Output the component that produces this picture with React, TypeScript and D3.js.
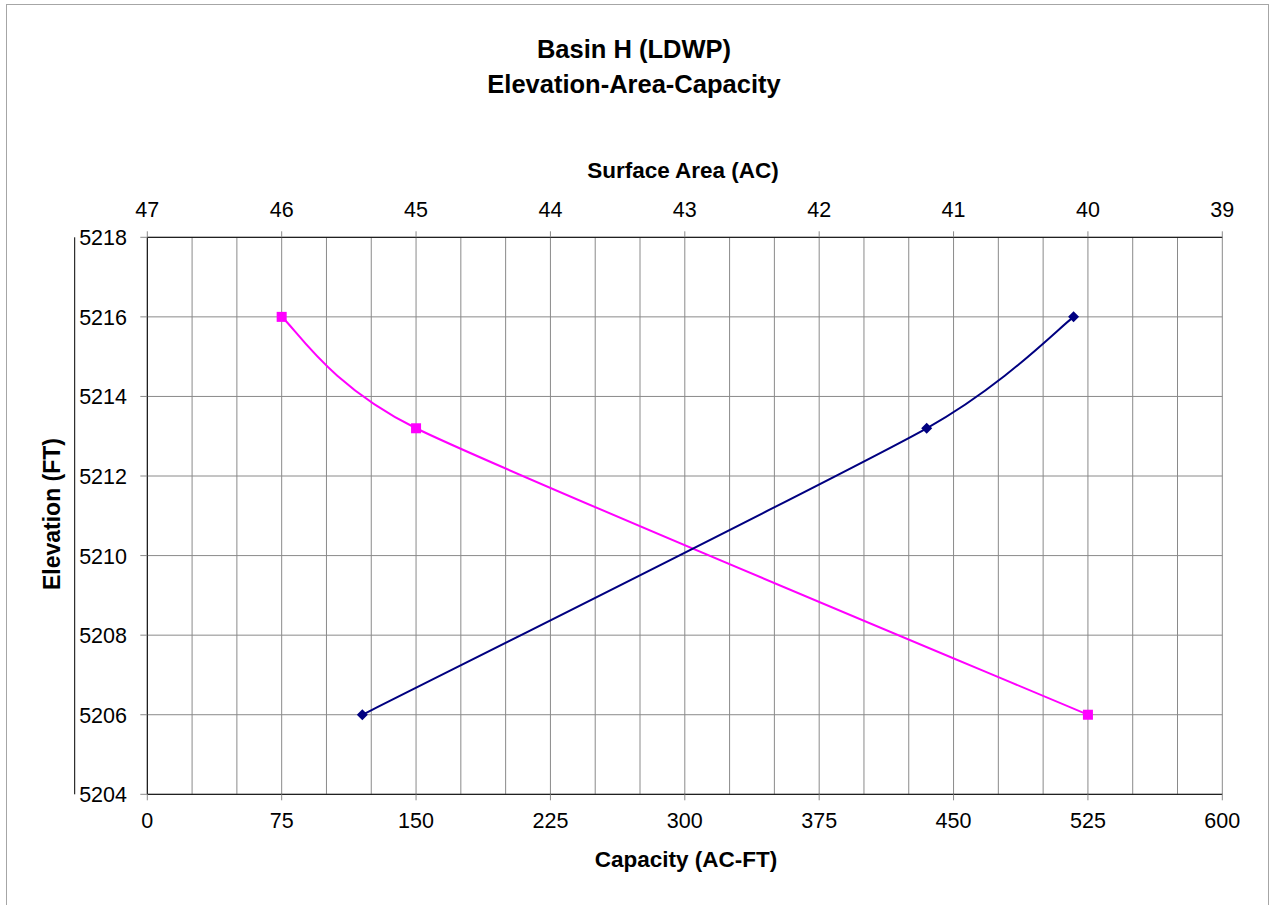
import React from "react";
import * as d3 from "d3";

const elevation = [5206, 5213.2, 5216];
const capacity = [120, 435, 517];
const surfaceArea = [40, 45, 46];

const capacityTicks = [0, 75, 150, 225, 300, 375, 450, 525, 600];
const areaTicks = [47, 46, 45, 44, 43, 42, 41, 40, 39];
const elevTicks = [5204, 5206, 5208, 5210, 5212, 5214, 5216, 5218];
const capacityGrid = d3.range(0, 601, 25);

const FONT = "'Liberation Sans', Arial, Helvetica, sans-serif";

// Excel-like smoothed line built with d3.path (Bezier control points from neighbours)
function smoothPath(pts: [number, number][], k = 0.108): string {
  const p = d3.path();
  if (!pts.length) return "";
  p.moveTo(pts[0][0], pts[0][1]);
  const n = pts.length;
  for (let i = 0; i < n - 1; i++) {
    const p0 = pts[Math.max(0, i - 1)];
    const p1 = pts[i];
    const p2 = pts[i + 1];
    const p3 = pts[Math.min(n - 1, i + 2)];
    const c1x = p1[0] + k * (p2[0] - p0[0]);
    const c1y = p1[1] + k * (p2[1] - p0[1]);
    const c2x = p2[0] - k * (p3[0] - p1[0]);
    const c2y = p2[1] - k * (p3[1] - p1[1]);
    p.bezierCurveTo(c1x, c1y, c2x, c2y, p2[0], p2[1]);
  }
  return p.toString();
}

export default function App() {
  const left = 147.3, right = 1222.3, top = 237.3, bottom = 794.3;
  const x = d3.scaleLinear().domain([0, 600]).range([left, right]);
  const xa = d3.scaleLinear().domain([47, 39]).range([left, right]);
  const y = d3.scaleLinear().domain([5204, 5218]).range([bottom, top]);

  const capPts: [number, number][] = elevation.map((e, i) => [x(capacity[i]), y(e)]);
  const areaPts: [number, number][] = elevation.map((e, i) => [xa(surfaceArea[i]), y(e)]);

  const gridColor = "#8a8a8a";

  return (
    <svg
      width={1271}
      height={905}
      style={{ position: "absolute", left: 0, top: 0, background: "#fff" }}
      fontFamily={FONT}
    >
      <rect x={6.5} y={4.5} width={1262} height={920} fill="#fff" stroke="#a6a6a6" strokeWidth={1} />

      {/* title */}
      <text x={634} y={58} textAnchor="middle" fontSize={25.5} fontWeight="bold">Basin H (LDWP)</text>
      <text x={634} y={93} textAnchor="middle" fontSize={25.5} fontWeight="bold">Elevation-Area-Capacity</text>

      {/* gridlines */}
      {capacityGrid.map((c) => (
        <line key={"vx" + c} x1={x(c)} x2={x(c)} y1={top} y2={bottom} stroke={gridColor} strokeWidth={1} />
      ))}
      {elevTicks.map((e) => (
        <line key={"hy" + e} x1={left} x2={right} y1={y(e)} y2={y(e)} stroke={gridColor} strokeWidth={1} />
      ))}

      {/* axes lines */}
      <line x1={left} x2={right} y1={top} y2={top} stroke="#000" strokeWidth={1} />
      <line x1={left} x2={right} y1={bottom} y2={bottom} stroke="#000" strokeWidth={1} />
      <line x1={left} x2={left} y1={top} y2={bottom} stroke="#000" strokeWidth={1} />
      <line x1={74.7} x2={74.7} y1={top} y2={bottom} stroke="#000" strokeWidth={1} />

      {/* bottom axis */}
      {capacityTicks.map((c) => (
        <g key={"bt" + c}>
          <line x1={x(c)} x2={x(c)} y1={bottom} y2={bottom + 6} stroke={gridColor} />
          <text x={x(c)} y={828} textAnchor="middle" fontSize={21.5}>{c}</text>
        </g>
      ))}
      {/* top axis */}
      {areaTicks.map((a) => (
        <g key={"tt" + a}>
          <line x1={xa(a)} x2={xa(a)} y1={top - 6} y2={top} stroke={gridColor} />
          <text x={xa(a)} y={217} textAnchor="middle" fontSize={21.5}>{a}</text>
        </g>
      ))}
      {/* left axis */}
      {elevTicks.map((e) => (
        <g key={"lt" + e}>
          <line x1={left - 7} x2={left} y1={y(e)} y2={y(e)} stroke={gridColor} />
          <text x={127} y={y(e) + 8} textAnchor="end" fontSize={21.5}>{e}</text>
        </g>
      ))}

      {/* axis titles */}
      <text x={683} y={178} textAnchor="middle" fontSize={22.5} fontWeight="bold">Surface Area (AC)</text>
      <text x={686} y={867} textAnchor="middle" fontSize={22.5} fontWeight="bold">Capacity (AC-FT)</text>
      <text transform="translate(60,514) rotate(-90)" textAnchor="middle" fontSize={23} fontWeight="bold">Elevation (FT)</text>

      {/* series */}
      <path d={smoothPath(areaPts)} fill="none" stroke="#FF00FF" strokeWidth={2} />
      <path d={smoothPath(capPts)} fill="none" stroke="#000080" strokeWidth={2} />
      {elevation.map((e, i) => (
        <rect key={"sq" + i} x={xa(surfaceArea[i]) - 5} y={y(e) - 5} width={10} height={10} fill="#FF00FF" />
      ))}
      {elevation.map((e, i) => (
        <path
          key={"dm" + i}
          d={`M${x(capacity[i])},${y(e) - 5.5}L${x(capacity[i]) + 5.5},${y(e)}L${x(capacity[i])},${y(e) + 5.5}L${x(capacity[i]) - 5.5},${y(e)}Z`}
          fill="#000080"
        />
      ))}
    </svg>
  );
}
